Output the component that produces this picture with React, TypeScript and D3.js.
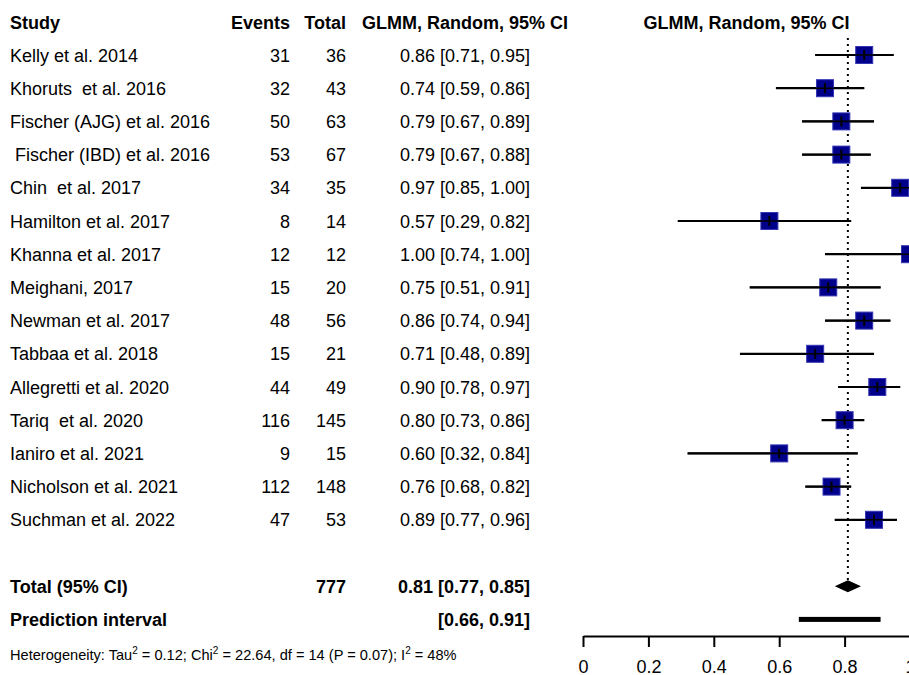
import React, { useEffect, useRef } from 'react';
import * as d3 from 'd3';

// study rows
const studies = [
  'Kelly et al. 2014',
  'Khoruts  et al. 2016',
  'Fischer (AJG) et al. 2016',
  '\u00a0Fischer (IBD) et al. 2016',
  'Chin  et al. 2017',
  'Hamilton et al. 2017',
  'Khanna et al. 2017',
  'Meighani, 2017',
  'Newman et al. 2017',
  'Tabbaa et al. 2018',
  'Allegretti et al. 2020',
  'Tariq  et al. 2020',
  'Ianiro et al. 2021',
  'Nicholson et al. 2021',
  'Suchman et al. 2022',
];
const events = [31, 32, 50, 53, 34, 8, 12, 15, 48, 15, 44, 116, 9, 112, 47];
const totals = [36, 43, 63, 67, 35, 14, 12, 20, 56, 21, 49, 145, 15, 148, 53];
const estimates = [0.86, 0.74, 0.79, 0.79, 0.97, 0.57, 1.0, 0.75, 0.86, 0.71, 0.9, 0.8, 0.6, 0.76, 0.89];
const lower = [0.71, 0.59, 0.67, 0.67, 0.85, 0.29, 0.74, 0.51, 0.74, 0.48, 0.78, 0.73, 0.32, 0.68, 0.77];
const upper = [0.95, 0.86, 0.89, 0.88, 1.0, 0.82, 1.0, 0.91, 0.94, 0.89, 0.97, 0.86, 0.84, 0.82, 0.96];

const pooled = [0.81, 0.77, 0.85];
const predInterval = [0.66, 0.91];
const totalN = 777;
const axisTicks = [0, 0.2, 0.4, 0.6, 0.8, 1];

const W = 909;
const H = 675;
const FONT = '"Liberation Sans", Arial, sans-serif';
const FS = 18;

const fmt = d3.format('.2f');

const App = () => {
  const axisRef = useRef<SVGGElement>(null);

  const x = d3.scaleLinear().domain([0, 1]).range([583, 910]);
  // rows: 15 studies, a blank, total, prediction interval
  const rowKeys = d3.range(studies.length + 3);
  const y = d3.scalePoint<number>().domain(rowKeys).range([55, 55 + 33.2 * 17]);
  const totalRow = studies.length + 1;
  const predRow = studies.length + 2;
  const axisY = 636;

  useEffect(() => {
    const g = d3.select(axisRef.current);
    g.selectAll('*').remove();
    g.call(
      d3.axisBottom(x)
        .tickValues(axisTicks)
        .tickFormat(d => String(+d))
        .tickSize(11)
        .tickPadding(13)
        .tickSizeOuter(0)
    );
    g.select('.domain').attr('stroke-width', 2);
    g.selectAll('.tick line').attr('stroke-width', 2);
    g.selectAll('.tick text')
      .attr('font-size', FS)
      .attr('font-family', FONT)
      .attr('fill', '#000');
  }, []);

  const textStyle = { fontFamily: FONT, fontSize: FS, fill: '#000' };
  const sq = 17;
  const dy = 6.5;

  return (
    <svg width={W} height={H} style={{ position: 'absolute', left: 0, top: 0, background: '#fff' }}>
      {/* headers */}
      <g style={{ ...textStyle, fontWeight: 'bold' }}>
        <text x={10} y={29}>Study</text>
        <text x={290} y={29} textAnchor="end">Events</text>
        <text x={346} y={29} textAnchor="end">Total</text>
        <text x={568} y={29} textAnchor="end">GLMM, Random, 95% CI</text>
        <text x={(x(0) + x(1)) / 2} y={29} textAnchor="middle">GLMM, Random, 95% CI</text>
      </g>

      {/* table rows */}
      <g style={textStyle}>
        {studies.map((s, i) => (
          <g key={s} transform={`translate(0,${y(i)! + dy})`}>
            <text x={10} xmlSpace="preserve" style={{ whiteSpace: 'pre' }}>{s}</text>
            <text x={290} textAnchor="end">{events[i]}</text>
            <text x={346} textAnchor="end">{totals[i]}</text>
            <text x={530} textAnchor="end">
              {`${fmt(estimates[i])} [${fmt(lower[i])}, ${fmt(upper[i])}]`}
            </text>
          </g>
        ))}
      </g>

      <g style={{ ...textStyle, fontWeight: 'bold' }}>
        <text x={10} y={y(totalRow)! + dy}>Total (95% CI)</text>
        <text x={346} y={y(totalRow)! + dy} textAnchor="end">{totalN}</text>
        <text x={530} y={y(totalRow)! + dy} textAnchor="end">
          {`${fmt(pooled[0])} [${fmt(pooled[1])}, ${fmt(pooled[2])}]`}
        </text>
        <text x={10} y={y(predRow)! + dy}>Prediction interval</text>
        <text x={530} y={y(predRow)! + dy} textAnchor="end">
          {`[${fmt(predInterval[0])}, ${fmt(predInterval[1])}]`}
        </text>
      </g>

      <text x={10} y={660} style={{ fontFamily: FONT, fontSize: 14.6, fill: '#000' }}>
        Heterogeneity: Tau<tspan fontSize={10} dy={-6}>2</tspan>
        <tspan dy={6}> = 0.12; Chi</tspan><tspan fontSize={10} dy={-6}>2</tspan>
        <tspan dy={6}> = 22.64, df = 14 (P = 0.07); I</tspan><tspan fontSize={10} dy={-6}>2</tspan>
        <tspan dy={6}> = 48%</tspan>
      </text>

      {/* pooled reference line */}
      <line
        x1={x(pooled[0])} x2={x(pooled[0])} y1={38} y2={y(totalRow)! - 6}
        stroke="#000" strokeWidth={2} strokeDasharray="2,4"
      />

      {/* study CIs and squares */}
      {studies.map((s, i) => {
        const cy = y(i)!;
        return (
          <g key={s}>
            <line x1={x(lower[i])} x2={x(upper[i])} y1={cy} y2={cy} stroke="#000" strokeWidth={2.2} />
            <rect
              x={x(estimates[i]) - sq / 2} y={cy - sq / 2} width={sq} height={sq}
              fill="#00008B" stroke="#3535b5" strokeWidth={1}
            />
            <line x1={x(lower[i])} x2={x(upper[i])} y1={cy} y2={cy} stroke="#000" strokeWidth={1.6} />
            <line x1={x(estimates[i])} x2={x(estimates[i])} y1={cy - 5} y2={cy + 5} stroke="#000" strokeWidth={2} />
          </g>
        );
      })}

      {/* pooled diamond */}
      <path
        d={`M${x(pooled[1])},${y(totalRow)} L${x(pooled[0])},${y(totalRow)! - 6} L${x(pooled[2])},${y(totalRow)} L${x(pooled[0])},${y(totalRow)! + 6} Z`}
        fill="#000"
      />

      {/* prediction interval bar */}
      <rect
        x={x(predInterval[0])} y={y(predRow)! - 2.5}
        width={x(predInterval[1]) - x(predInterval[0])} height={5} fill="#000"
      />

      <g ref={axisRef} transform={`translate(0,${axisY})`} />
    </svg>
  );
};

export default App;
